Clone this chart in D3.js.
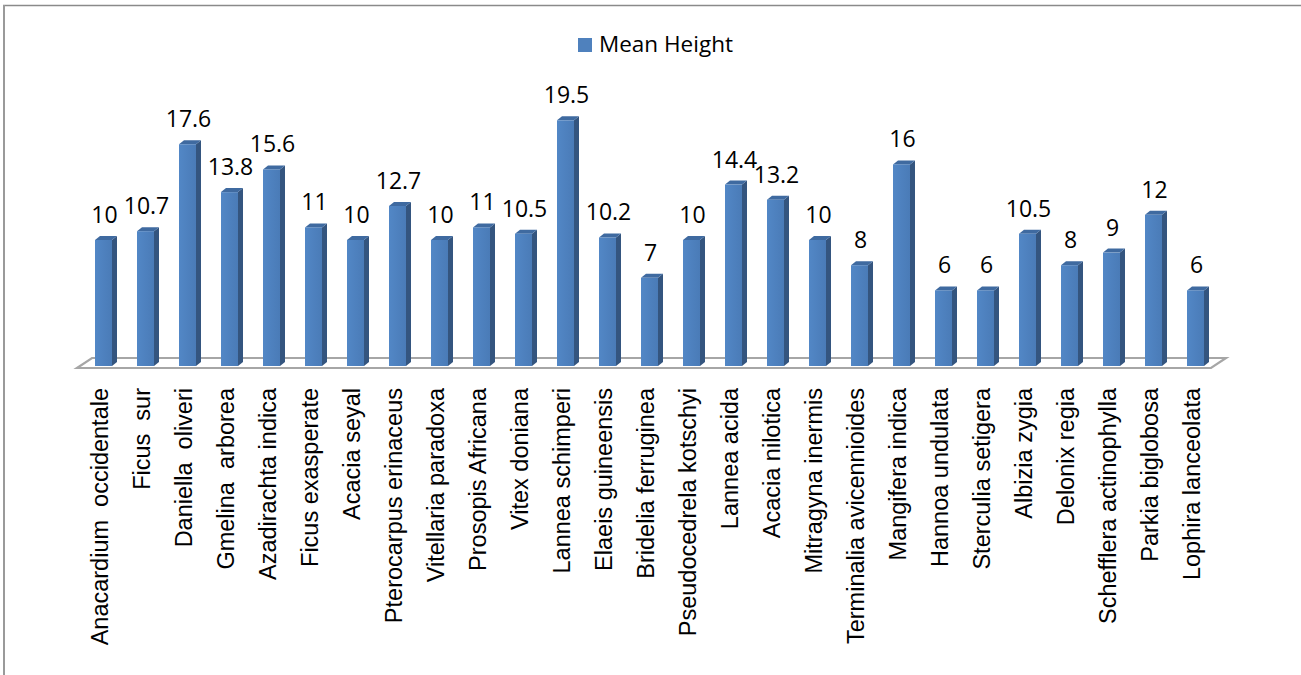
<!DOCTYPE html>
<html>
<head>
<meta charset="utf-8">
<script src="https://cdn.jsdelivr.net/npm/d3@7"></script>
<style>
  html, body { margin: 0; padding: 0; background: #fff; }
  svg { display: block; }
  .cat { white-space: pre; }
</style>
</head>
<body>
<svg id="chart" width="1301" height="675"></svg>
<script>
// Tree species and their mean height
const categories = [
  "Anacardium  occidentale", "Ficus  sur", "Daniella  oliveri", "Gmelina  arborea",
  "Azadirachta indica", "Ficus exasperate", "Acacia seyal", "Pterocarpus erinaceus",
  "Vitellaria paradoxa", "Prosopis Africana", "Vitex doniana", "Lannea schimperi",
  "Elaeis guineensis", "Bridelia ferruginea", "Pseudocedrela kotschyi", "Lannea acida",
  "Acacia nilotica", "Mitragyna inermis", "Terminalia avicennioides", "Mangifera indica",
  "Hannoa undulata", "Sterculia setigera", "Albizia zygia", "Delonix regia",
  "Schefflera actinophylla", "Parkia biglobosa", "Lophira lanceolata"
];
const meanHeight = [
  10, 10.7, 17.6, 13.8, 15.6, 11, 10, 12.7, 10, 11, 10.5, 19.5, 10.2, 7,
  10, 14.4, 13.2, 10, 8, 16, 6, 6, 10.5, 8, 9, 12, 6
];
const seriesName = "Mean Height";

const svg = d3.select("#chart");

// frame of the chart area
svg.append("line").attr("x1", 3).attr("x2", 1301).attr("y1", 5.5).attr("y2", 5.5)
  .attr("stroke", "#8a8a8a").attr("stroke-width", 1.5);
svg.append("line").attr("x1", 4).attr("x2", 4).attr("y1", 5).attr("y2", 675)
  .attr("stroke", "#9a9a9a").attr("stroke-width", 2);

const x = d3.scaleBand().domain(categories).range([77, 1211]).paddingInner(0).paddingOuter(0);
const y = d3.scaleLinear().domain([0, 20]).range([366, 114]);

// 3D offsets
const depthX = 15, depthY = -10;   // floor depth
const barDX = 5, barDY = -4;       // bar depth
const barOffset = 18, barW = 17;

// floor
const fl = x.range()[0], fr = x.range()[1], fy = 368;
svg.append("path")
  .attr("d", `M${fl},${fy} L${fr},${fy} L${fr + depthX},${fy + depthY} L${fl + depthX},${fy + depthY} Z`)
  .attr("fill", "#fff").attr("stroke", "#a6a6a6").attr("stroke-width", 2.2)
  .attr("stroke-linejoin", "miter");

// bars
const defs = svg.append("defs");
const grad = defs.append("linearGradient").attr("id", "front").attr("x1", 0).attr("x2", 1).attr("y1", 0).attr("y2", 0);
grad.append("stop").attr("offset", "0%").attr("stop-color", "#5287c6");
grad.append("stop").attr("offset", "100%").attr("stop-color", "#4a7bb7");

const labelFont = "'Open Sans', Lato, sans-serif";

const bars = svg.append("g").selectAll("g")
  .data(categories.map((c, i) => ({ c, v: meanHeight[i] })))
  .join("g");

bars.each(function (d) {
  const g = d3.select(this);
  const x0 = x(d.c) + barOffset, x1 = x0 + barW;
  const yTop = y(d.v), yBot = y(0);
  // side face
  g.append("path")
    .attr("d", `M${x1},${yTop} L${x1 + barDX},${yTop + barDY} L${x1 + barDX},${yBot + barDY} L${x1},${yBot} Z`)
    .attr("fill", "#34557f");
  // top face
  g.append("path")
    .attr("d", `M${x0},${yTop} L${x0 + barDX},${yTop + barDY} L${x1 + barDX},${yTop + barDY} L${x1},${yTop} Z`)
    .attr("fill", "#3f6aa0");
  // front face
  g.append("rect")
    .attr("x", x0).attr("y", yTop).attr("width", barW).attr("height", yBot - yTop)
    .attr("fill", "url(#front)");
  // data label
  g.append("text")
    .attr("x", x0 + barW / 2 + 1).attr("y", yTop - 17)
    .attr("text-anchor", "middle")
    .attr("font-family", labelFont)
    .attr("font-size", 23)
    .attr("fill", "#000")
    .text(d.v);
});

// category axis labels
svg.append("g").selectAll("text")
  .data(categories)
  .join("text")
  .attr("class", "cat")
  .attr("transform", d => `translate(${x(d) + x.bandwidth() / 2 + 2},388) rotate(-90)`)
  .attr("dy", "0.35em")
  .attr("text-anchor", "end")
  .attr("font-family", "'Liberation Sans', Arial, sans-serif")
  .attr("font-size", 23.5)
  .attr("fill", "#000")
  .text(d => d);

// legend
const lg = svg.append("g");
lg.append("rect").attr("x", 578).attr("y", 38).attr("width", 14).attr("height", 14).attr("fill", "#4f81bd");
lg.append("text").attr("x", 599).attr("y", 52)
  .attr("font-family", labelFont)
  .attr("font-size", 22.5).attr("fill", "#000")
  .text(seriesName);
</script>
</body>
</html>
